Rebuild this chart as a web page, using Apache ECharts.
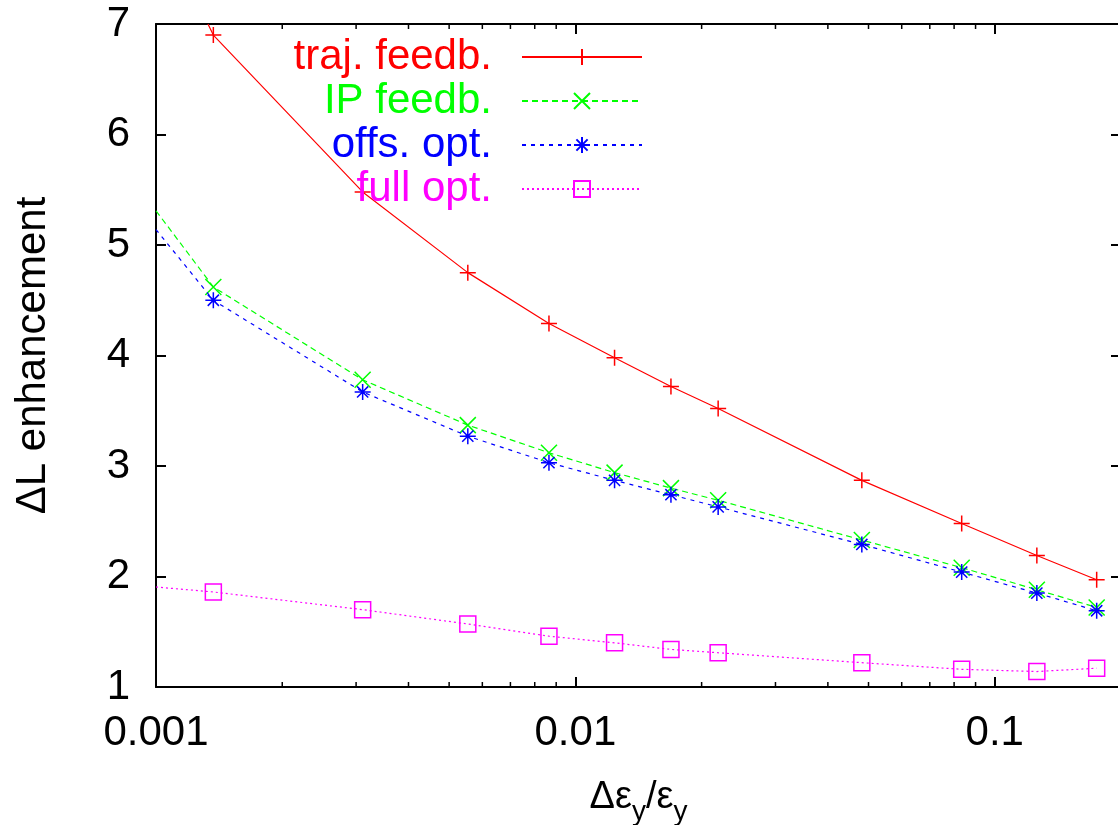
<!DOCTYPE html>
<html>
<head>
<meta charset="utf-8">
<script src="https://cdn.jsdelivr.net/npm/echarts@6/dist/echarts.min.js"></script>
<style>
html,body{margin:0;padding:0;background:#fff;}
#chart{width:1118px;height:825px;}
</style>
</head>
<body>
<div id="chart"></div>
<script>
// ---- data ----
const xValues   = [0.00137, 0.00311, 0.00554, 0.00865, 0.0124, 0.0169, 0.0219, 0.0482, 0.0834, 0.126, 0.175];
const trajFeedb = [6.90, 5.48, 4.75, 4.29, 3.98, 3.72, 3.52, 2.87, 2.48, 2.19, 1.97];
const ipFeedb   = [4.62, 3.78, 3.37, 3.12, 2.94, 2.80, 2.69, 2.33, 2.08, 1.88, 1.72];
const offsOpt   = [4.50, 3.67, 3.27, 3.03, 2.87, 2.74, 2.63, 2.29, 2.04, 1.85, 1.69];
const fullOpt   = [1.86, 1.70, 1.57, 1.46, 1.40, 1.34, 1.31, 1.22, 1.16, 1.14, 1.17];
// where each curve leaves the plot frame on the left
const trajStart = [0.00133, 7.0];
const ipStart   = [0.001, 5.31];
const offsStart = [0.001, 5.14];
const fullStart = [0.001, 1.905];
const seriesNames = ['traj. feedb.', 'IP feedb.', 'offs. opt.', 'full opt.'];
const xMin = 0.001, xMax = 0.2, yMin = 1, yMax = 7;
const minorTicks = [0.002,0.003,0.004,0.005,0.006,0.007,0.008,0.009,
                    0.02,0.03,0.04,0.05,0.06,0.07,0.08,0.09];

const FONT = '"Liberation Sans", Arial, Helvetica, sans-serif';
const colors = ['#ff0000', '#00ff00', '#0000ff', '#ff00ff'];
const symbols = [
  'path://M0 5 L10 5 M5 0 L5 10',
  'path://M0 0 L10 10 M10 0 L0 10',
  'path://M0 5 L10 5 M5 0 L5 10 M1.5 1.5 L8.5 8.5 M8.5 1.5 L1.5 8.5',
  'path://M0 0 L10 0 L10 10 L0 10 Z'
];
const dashes = ['solid', [6, 4], [4, 5], [2, 3]];

function buildData(start, ys) {
  const d = [{ value: start, symbol: 'none' }];
  xValues.forEach((x, i) => d.push([x, ys[i]]));
  return d;
}
const allY = [trajFeedb, ipFeedb, offsOpt, fullOpt];
const starts = [trajStart, ipStart, offsStart, fullStart];

const lineSeries = seriesNames.map((name, i) => ({
  name: name,
  type: 'line',
  data: buildData(starts[i], allY[i]),
  symbol: symbols[i],
  symbolSize: 16,
  symbolKeepAspect: true,
  showAllSymbol: true,
  itemStyle: { color: 'rgba(0,0,0,0)', borderColor: colors[i], borderWidth: 1.5 },
  lineStyle: { color: colors[i], width: 1.2, type: dashes[i] },
  emphasis: { disabled: true },
  clip: true,
  z: 3 + i
}));

const tickSeries = {
  type: 'custom',
  silent: true,
  clip: false,
  data: minorTicks.map(v => [v, yMin]),
  renderItem: function (params, api) {
    const x = api.value(0);
    const pb = api.coord([x, yMin]);
    const pt = api.coord([x, yMax]);
    const st = { stroke: '#000', lineWidth: 1.5 };
    return {
      type: 'group',
      children: [
        { type: 'line', shape: { x1: pb[0], y1: pb[1], x2: pb[0], y2: pb[1] - 5 }, style: st },
        { type: 'line', shape: { x1: pt[0], y1: pt[1], x2: pt[0], y2: pt[1] + 5 }, style: st }
      ]
    };
  },
  z: 10
};

function isPow10(v) {
  const l = Math.log10(v);
  return Math.abs(l - Math.round(l)) < 1e-6;
}

const axisLineStyle = { color: '#000', width: 2 };
const chart = echarts.init(document.getElementById('chart'), null, { renderer: 'canvas' });
chart.setOption({
  animation: false,
  backgroundColor: '#fff',
  grid: { left: 156, top: 24, width: 965, height: 663, containLabel: false, outerBoundsMode: 'none' },
  legend: {
    orient: 'vertical',
    align: 'right',
    right: 475,
    top: 35,
    padding: 0,
    itemGap: 0,
    itemWidth: 120,
    itemHeight: 20,
    selectedMode: false,
    data: seriesNames.map((n, i) => ({
      name: n,
      textStyle: { color: colors[i] }
    })),
    textStyle: { fontSize: 42, fontFamily: FONT, lineHeight: 44, padding: [0, 25, 0, 0] }
  },
  xAxis: [{
    type: 'log',
    logBase: 10,
    min: xMin,
    max: xMax,
    position: 'bottom',
    name: 'Δε{sub|y}/ε{sub|y}',
    nameLocation: 'middle',
    nameGap: 91,
    nameTextStyle: {
      fontFamily: FONT, fontSize: 38, color: '#000', lineHeight: 40, verticalAlign: 'top',
      rich: {
        sub: { fontFamily: FONT, fontSize: 28, lineHeight: 28, padding: [20, 0, 0, 0], verticalAlign: 'top', color: '#000' }
      }
    },
    axisLine: { show: true, lineStyle: axisLineStyle },
    axisTick: { show: true, inside: true, length: 10, lineStyle: { color: '#000', width: 2 } },
    axisLabel: {
      show: true, margin: 25, fontSize: 42, fontFamily: FONT, color: '#000',
      formatter: v => isPow10(v) ? String(Number(v.toPrecision(1))) : ''
    },
    splitLine: { show: false },
    minorTick: { show: false }
  }, {
    type: 'log',
    logBase: 10,
    min: xMin,
    max: xMax,
    position: 'top',
    axisLine: { show: true, lineStyle: axisLineStyle },
    axisTick: { show: true, inside: true, length: 10, lineStyle: { color: '#000', width: 2 } },
    axisLabel: { show: false },
    splitLine: { show: false }
  }],
  yAxis: [{
    type: 'value',
    min: yMin,
    max: yMax,
    interval: 1,
    position: 'left',
    name: 'ΔL enhancement',
    nameLocation: 'middle',
    nameRotate: 90,
    nameGap: 102,
    nameTextStyle: { fontFamily: FONT, fontSize: 42, color: '#000' },
    axisLine: { show: true, lineStyle: axisLineStyle },
    axisTick: { show: true, inside: true, length: 10, lineStyle: { color: '#000', width: 2 } },
    axisLabel: { show: true, margin: 26, fontSize: 42, fontFamily: FONT, color: '#000' },
    splitLine: { show: false }
  }, {
    type: 'value',
    min: yMin,
    max: yMax,
    interval: 1,
    position: 'right',
    axisLine: { show: true, lineStyle: axisLineStyle },
    axisTick: { show: true, inside: true, length: 10, lineStyle: { color: '#000', width: 2 } },
    axisLabel: { show: false },
    splitLine: { show: false }
  }],
  series: lineSeries.concat([tickSeries])
});
</script>
</body>
</html>
